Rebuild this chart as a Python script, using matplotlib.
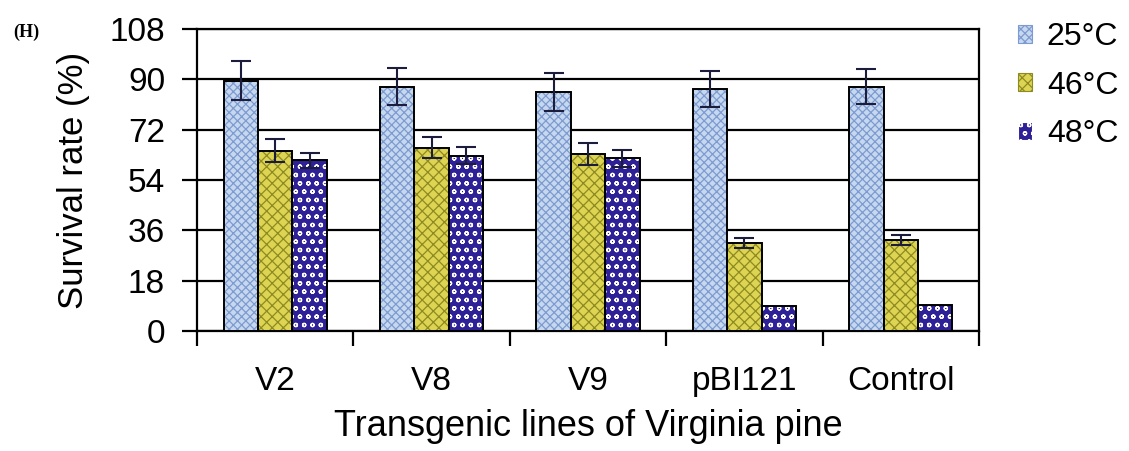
import matplotlib
matplotlib.use("Agg")
import matplotlib.pyplot as plt
import numpy as np
from matplotlib.patches import Patch

plt.rcParams['font.family'] = ['Liberation Sans', 'DejaVu Sans']
plt.rcParams['hatch.linewidth'] = 0.9

# values
lines = ["V2", "V8", "V9", "pBI121", "Control"]
temps = ["25°C", "46°C", "48°C"]
surv_25 = [89.5, 87.4, 85.4, 86.5, 87.4]
surv_46 = [64.5, 65.6, 63.3, 31.6, 32.6]
surv_48 = [61.0, 62.7, 61.8, 9.0, 9.3]
err_25 = [7.0, 6.5, 6.8, 6.5, 6.4]
err_46 = [4.0, 3.8, 3.8, 1.8, 1.8]
err_48 = [2.7, 3.0, 3.0, 0.0, 0.0]

yticks = [0, 18, 36, 54, 72, 90, 108]

# fill colour, hatch, hatch colour
styles = [("#c6d8ef", "xxxx", "#7d9bd0"),
          ("#dcd452", "xxx", "#8e8a22"),
          ("#2e2096", "oo", "#ffffff")]

fig = plt.figure(figsize=(11.29, 4.51), dpi=100)
ax = fig.add_axes([197/1129, 1 - 331/451, 782/1129, 302/451])

x = np.arange(len(lines))
w = 0.22
series = [surv_25, surv_46, surv_48]
errs = [err_25, err_46, err_48]

for i, (vals, ee) in enumerate(zip(series, errs)):
    fc, hatch, hc = styles[i]
    pos = x + (i - 1) * w
    # fill + hatch first, outline on top
    ax.bar(pos, vals, w, color=fc, edgecolor=hc, hatch=hatch, linewidth=0, zorder=3)
    ax.bar(pos, vals, w, fill=False, edgecolor="black", linewidth=1.4, zorder=4)
    ee = np.array(ee)
    show = ee > 0
    ax.errorbar(pos[show], np.array(vals)[show], yerr=ee[show], fmt="none",
                ecolor="#1c1c3c", elinewidth=1.5, capsize=7, capthick=1.5, zorder=5)

ax.set_ylim(0, 108)
ax.set_xlim(-0.5, len(lines) - 0.5)
ax.set_yticks(yticks)
ax.set_yticklabels([str(t) for t in yticks], fontsize=24)
ax.yaxis.grid(True, color="black", linewidth=1.6, zorder=1)
ax.set_axisbelow(True)

# ticks at the group boundaries, labels in the middle
ax.set_xticks(np.arange(-0.5, len(lines), 1.0))
ax.set_xticklabels([])
ax.set_xticks(x, minor=True)
ax.set_xticklabels(lines, minor=True, fontsize=24)
ax.tick_params(axis="x", which="minor", length=0, pad=25)
ax.tick_params(axis="x", which="major", length=11, width=1.6, direction="out")
ax.tick_params(axis="y", length=11, width=1.6, direction="out", pad=12)

for sp in ax.spines.values():
    sp.set_linewidth(1.6)
    sp.set_color("black")

ax.set_xlabel("Transgenic lines of Virginia pine", fontsize=26, labelpad=9)
ax.set_ylabel("Survival rate (%)", fontsize=25, labelpad=14)

handles = [Patch(facecolor=fc, edgecolor=hc, hatch=h) for fc, h, hc in styles]
leg = fig.legend(handles, temps, loc="upper left", bbox_to_anchor=(1018/1129, 1 - 22/451),
                 frameon=False, fontsize=23, handlelength=0.45, handleheight=0.5,
                 handletextpad=0.45, labelspacing=0.58, borderaxespad=0, borderpad=0)
for p in leg.get_patches():
    p.set_linewidth(0.8)

fig.text(13/1129, 1 - 24/451, "(H)", fontsize=13, fontweight="bold", va="top",
         family=["Liberation Serif", "DejaVu Serif"])

fig.savefig("out.png", dpi=100)
